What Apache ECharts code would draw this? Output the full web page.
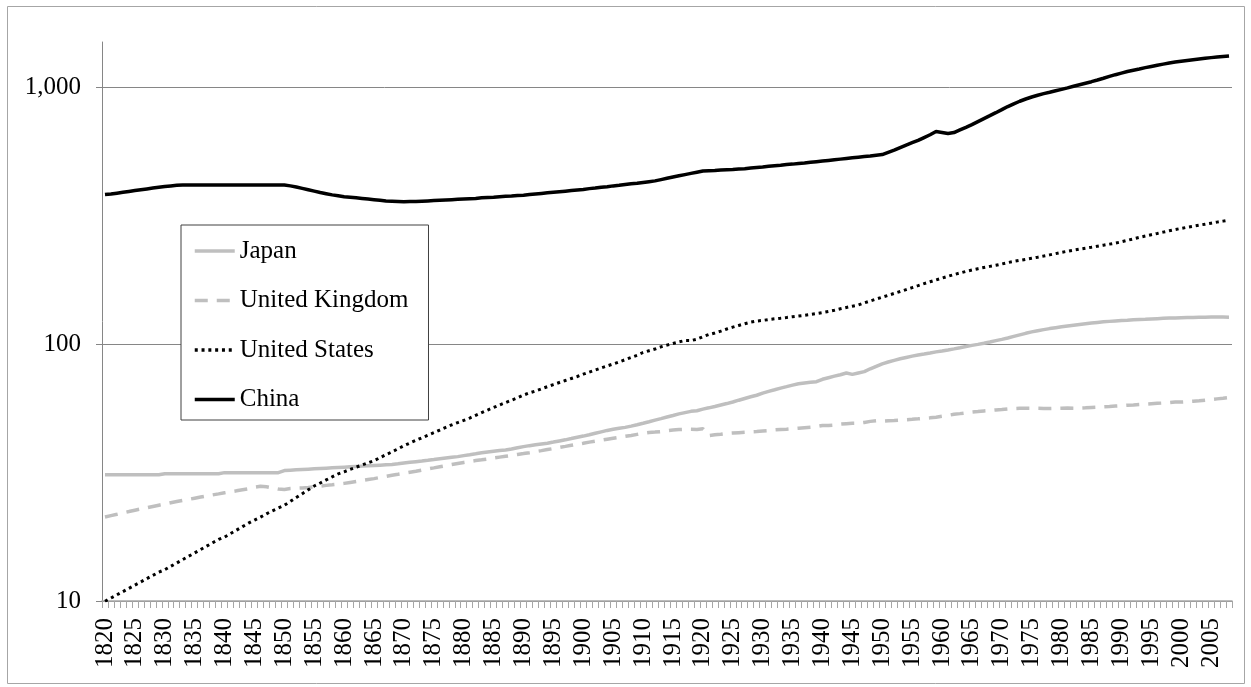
<!DOCTYPE html>
<html>
<head>
<meta charset="utf-8">
<script src="https://cdn.jsdelivr.net/npm/echarts@6/dist/echarts.min.js"></script>
<style>
  html, body { margin: 0; padding: 0; background: #fff; }
  #chart { width: 1251px; height: 687px; }
</style>
</head>
<body>
<div id="chart"></div>
<script>
// Population, millions, 1820-2008 (one value per year)
const firstYear = 1820;
const lastYear = 2008;
const years = [];
for (let y = firstYear; y <= lastYear; y++) years.push(String(y));

const japan = [
  31.0, 31.0, 31.0, 31.0, 31.0, 31.0, 31.0, 31.0, 31.0, 31.0,
  31.3, 31.3, 31.3, 31.3, 31.3, 31.3, 31.3, 31.3, 31.3, 31.3,
  31.6, 31.6, 31.6, 31.6, 31.6, 31.6, 31.6, 31.6, 31.6, 31.6,
  32.2, 32.3, 32.4, 32.5, 32.6, 32.7, 32.8, 32.9, 33.0, 33.1,
  33.2, 33.3, 33.4, 33.5, 33.6, 33.7, 33.8, 33.9, 34.0, 34.2,
  34.44, 34.65, 34.86, 35.07, 35.29, 35.52, 35.77, 36.02, 36.26, 36.48,
  36.81, 37.11, 37.42, 37.74, 38.03, 38.31, 38.54, 38.70, 39.03, 39.47,
  39.90, 40.25, 40.58, 40.86, 41.14, 41.56, 41.99, 42.40, 42.89, 43.40,
  43.85, 44.36, 44.96, 45.55, 46.14, 46.62, 47.04, 47.42, 47.96, 48.55,
  49.18, 49.85, 50.58, 51.30, 52.04, 52.75, 53.50, 54.13, 54.74, 55.03,
  55.82, 56.49, 57.20, 57.94, 58.69, 59.52, 60.49, 61.43, 62.36, 63.24,
  64.45, 65.46, 66.43, 67.43, 68.31, 69.24, 70.11, 70.63, 71.01, 71.38,
  72.97, 74.01, 75.03, 76.01, 77.18, 76.22, 77.20, 78.12, 80.16, 81.97,
  83.81, 85.16, 86.46, 87.66, 88.75, 89.82, 90.77, 91.56, 92.41, 93.30,
  94.09, 94.94, 95.83, 96.81, 97.83, 98.88, 99.79, 100.83, 101.96, 103.17,
  104.35, 105.70, 107.19, 108.66, 110.16, 111.57, 112.78, 113.88, 114.92, 115.88,
  116.81, 117.65, 118.45, 119.26, 120.02, 120.75, 121.49, 122.09, 122.61, 123.12,
  123.54, 123.92, 124.32, 124.67, 124.96, 125.34, 125.65, 125.96, 126.25, 126.47,
  126.70, 126.89, 127.07, 127.21, 127.33, 127.42, 127.46, 127.43, 127.29
];

const unitedKingdom = [
  21.24, 21.50, 21.76, 22.03, 22.29, 22.56, 22.82, 23.08, 23.34, 23.60,
  23.86, 24.14, 24.39, 24.63, 24.88, 25.13, 25.38, 25.63, 25.88, 26.12,
  26.38, 26.62, 26.85, 27.10, 27.35, 27.75, 27.97, 27.85, 27.55, 27.27,
  27.18, 27.39, 27.47, 27.54, 27.65, 27.82, 28.01, 28.19, 28.34, 28.52,
  28.70, 28.95, 29.20, 29.45, 29.70, 29.95, 30.25, 30.55, 30.85, 31.12,
  31.40, 31.70, 32.00, 32.32, 32.65, 32.98, 33.32, 33.65, 33.98, 34.30,
  34.62, 34.93, 35.21, 35.45, 35.72, 36.02, 36.31, 36.60, 36.88, 37.18,
  37.48, 37.80, 38.13, 38.49, 38.86, 39.22, 39.60, 39.99, 40.39, 40.77,
  41.15, 41.54, 41.89, 42.26, 42.64, 43.00, 43.36, 43.74, 44.12, 44.52,
  44.92, 45.27, 45.44, 45.65, 46.05, 46.34, 46.51, 46.61, 46.58, 46.53,
  46.82, 44.07, 44.37, 44.60, 44.92, 45.06, 45.23, 45.39, 45.58, 45.67,
  45.87, 46.07, 46.34, 46.52, 46.67, 46.87, 47.08, 47.29, 47.49, 47.76,
  48.23, 48.22, 48.40, 48.79, 49.02, 49.18, 49.22, 49.57, 50.03, 50.31,
  50.13, 50.29, 50.43, 50.59, 50.77, 50.95, 51.18, 51.43, 51.65, 51.96,
  52.37, 52.81, 53.29, 53.63, 54.00, 54.35, 54.64, 54.96, 55.21, 55.46,
  55.63, 55.93, 56.10, 56.22, 56.24, 56.23, 56.22, 56.19, 56.18, 56.24,
  56.33, 56.35, 56.34, 56.38, 56.51, 56.69, 56.85, 57.01, 57.16, 57.37,
  57.56, 57.81, 57.98, 58.19, 58.39, 58.60, 58.80, 58.99, 59.19, 59.50,
  59.52, 59.72, 59.95, 60.20, 60.52, 60.86, 61.21, 61.56, 61.92
];

const unitedStates = [
  9.98, 10.27, 10.57, 10.88, 11.20, 11.53, 11.87, 12.22, 12.58, 12.95,
  13.24, 13.65, 14.06, 14.49, 14.94, 15.39, 15.86, 16.35, 16.85, 17.36,
  17.73, 18.30, 18.88, 19.48, 20.09, 20.65, 21.20, 21.85, 22.45, 23.00,
  23.58, 24.42, 25.28, 26.17, 27.09, 28.04, 28.80, 29.61, 30.43, 31.24,
  31.84, 32.55, 33.19, 33.84, 34.51, 35.19, 36.15, 37.11, 38.09, 39.12,
  40.24, 41.20, 42.20, 43.20, 44.20, 45.20, 46.30, 47.40, 48.50, 49.50,
  50.46, 51.54, 52.82, 54.10, 55.38, 56.66, 57.94, 59.22, 60.50, 61.78,
  63.30, 64.61, 65.67, 66.97, 68.29, 69.58, 70.88, 72.19, 73.49, 74.80,
  76.39, 77.84, 79.29, 80.76, 82.23, 83.70, 85.25, 87.01, 88.71, 90.49,
  92.77, 94.23, 95.69, 97.61, 99.11, 100.55, 101.96, 103.27, 103.21, 104.51,
  106.88, 108.96, 110.50, 112.32, 114.54, 116.40, 118.21, 120.00, 121.77, 122.96,
  123.67, 124.63, 125.44, 126.18, 126.98, 127.86, 128.68, 129.46, 130.48, 131.54,
  132.64, 133.92, 135.39, 137.25, 138.92, 140.47, 141.94, 144.70, 147.21, 149.77,
  152.27, 154.88, 157.55, 160.18, 163.03, 165.93, 168.90, 171.98, 174.88, 177.83,
  180.67, 183.69, 186.54, 189.24, 191.89, 194.30, 196.56, 198.71, 200.71, 202.68,
  205.05, 207.66, 209.90, 211.91, 213.85, 215.97, 218.04, 220.24, 222.59, 225.06,
  227.73, 229.97, 232.19, 234.31, 236.35, 238.47, 240.65, 242.80, 245.02, 247.34,
  250.13, 253.49, 256.89, 260.26, 263.44, 266.56, 269.67, 272.91, 276.12, 279.30,
  282.22, 285.02, 287.68, 290.34, 293.03, 295.73, 298.44, 301.14, 304.06
];

const china = [
  382, 384, 387, 390, 393, 396, 399, 402, 405, 408,
  411, 413, 415, 416, 416, 416, 416, 416, 416, 416,
  416, 416, 416, 416, 416, 416, 416, 416, 416, 416,
  416, 413, 409, 404, 399, 394, 389, 385, 381, 378,
  375, 373, 371, 369, 367, 365, 363, 361, 360, 359,
  358, 359, 359, 360, 361, 362, 363, 364, 365, 366,
  367, 368, 369, 371, 372, 373, 375, 376, 377, 379,
  380, 382, 384, 386, 388, 390, 392, 394, 396, 398,
  400, 403, 405, 408, 410, 413, 415, 418, 421, 423,
  426, 429, 432, 437, 442, 447, 452, 457, 462, 467,
  472, 473, 474, 476, 477, 478, 480, 482, 485, 487,
  489, 492, 495, 497, 500, 502, 505, 507, 510, 513,
  516, 519, 522, 525, 528, 531, 534, 537, 540, 544,
  547, 558, 569, 582, 595, 608, 621, 637, 653, 672,
  667, 660, 666, 682, 698, 715, 735, 755, 775, 796,
  818, 841, 862, 882, 900, 916, 931, 944, 956, 969,
  981, 994, 1009, 1023, 1037, 1051, 1067, 1084, 1102, 1119,
  1135, 1151, 1165, 1178, 1192, 1205, 1218, 1230, 1242, 1253,
  1263, 1272, 1280, 1288, 1296, 1304, 1311, 1318, 1324
];

// Labelled powers of ten on the log axis
const yTicks = [10, 100, 1000];

const FONT = '"Liberation Serif", "Times New Roman", serif';
const AXIS_GRAY = '#868686';
const LIGHT = '#bfbfbf';

const chart = echarts.init(document.getElementById('chart'), null, { renderer: 'canvas' });

chart.setOption({
  animation: false,
  backgroundColor: '#ffffff',
  textStyle: { fontFamily: FONT },
  graphic: [{
    type: 'rect',
    silent: true,
    shape: { x: 7.5, y: 6.5, width: 1237, height: 677 },
    style: { fill: 'none', stroke: '#a6a6a6', lineWidth: 1 }
  }],
  grid: { left: 102, right: 19, top: 42, bottom: 86, containLabel: false },
  legend: {
    orient: 'vertical',
    left: 181,
    top: 225,
    padding: [13.5, 20, 8, 12],
    itemGap: 24.5,
    itemWidth: 40,
    itemHeight: 14,
    backgroundColor: '#ffffff',
    borderColor: '#404040',
    borderWidth: 1,
    itemStyle: { opacity: 0 },
    lineStyle: { width: 3.5 },
    textStyle: { fontFamily: FONT, fontSize: 25, lineHeight: 25, color: '#000' },
    data: ['Japan', 'United Kingdom', 'United States', 'China']
  },
  xAxis: {
    type: 'category',
    data: years,
    boundaryGap: true,
    axisLine: { show: true, lineStyle: { color: '#a6a6a6', width: 1.5 } },
    axisTick: { show: true, interval: 0, length: 7, alignWithLabel: false, lineStyle: { color: '#a6a6a6' } },
    axisLabel: {
      interval: 4,
      rotate: 90,
      margin: 17,
      fontFamily: FONT,
      fontSize: 25,
      color: '#000'
    },
    splitLine: { show: false }
  },
  yAxis: {
    type: 'log',
    logBase: 10,
    min: 10,
    max: 1500,
    axisLine: { show: true, lineStyle: { color: AXIS_GRAY } },
    axisTick: { show: true, length: 6, lineStyle: { color: AXIS_GRAY }, customValues: yTicks },
    axisLabel: {
      margin: 21,
      fontFamily: FONT,
      fontSize: 25,
      color: '#000',
      customValues: yTicks,
      formatter: (v) => Math.round(v).toLocaleString('en-US')
    },
    splitLine: { show: true, lineStyle: { color: AXIS_GRAY, width: 1 } }
  },
  series: [
    {
      name: 'Japan', type: 'line', data: japan, symbol: 'none', z: 2,
      lineStyle: { color: LIGHT, width: 3.5, type: 'solid' },
      itemStyle: { color: LIGHT }
    },
    {
      name: 'United Kingdom', type: 'line', data: unitedKingdom, symbol: 'none', z: 3,
      lineStyle: { color: LIGHT, width: 3.5, type: [13, 9] },
      itemStyle: { color: LIGHT }
    },
    {
      name: 'United States', type: 'line', data: unitedStates, symbol: 'none', z: 4,
      lineStyle: { color: '#000', width: 3, type: [3, 3.8] },
      itemStyle: { color: '#000' }
    },
    {
      name: 'China', type: 'line', data: china, symbol: 'none', z: 5,
      lineStyle: { color: '#000', width: 3.5, type: 'solid' },
      itemStyle: { color: '#000' }
    }
  ]
});
</script>
</body>
</html>
